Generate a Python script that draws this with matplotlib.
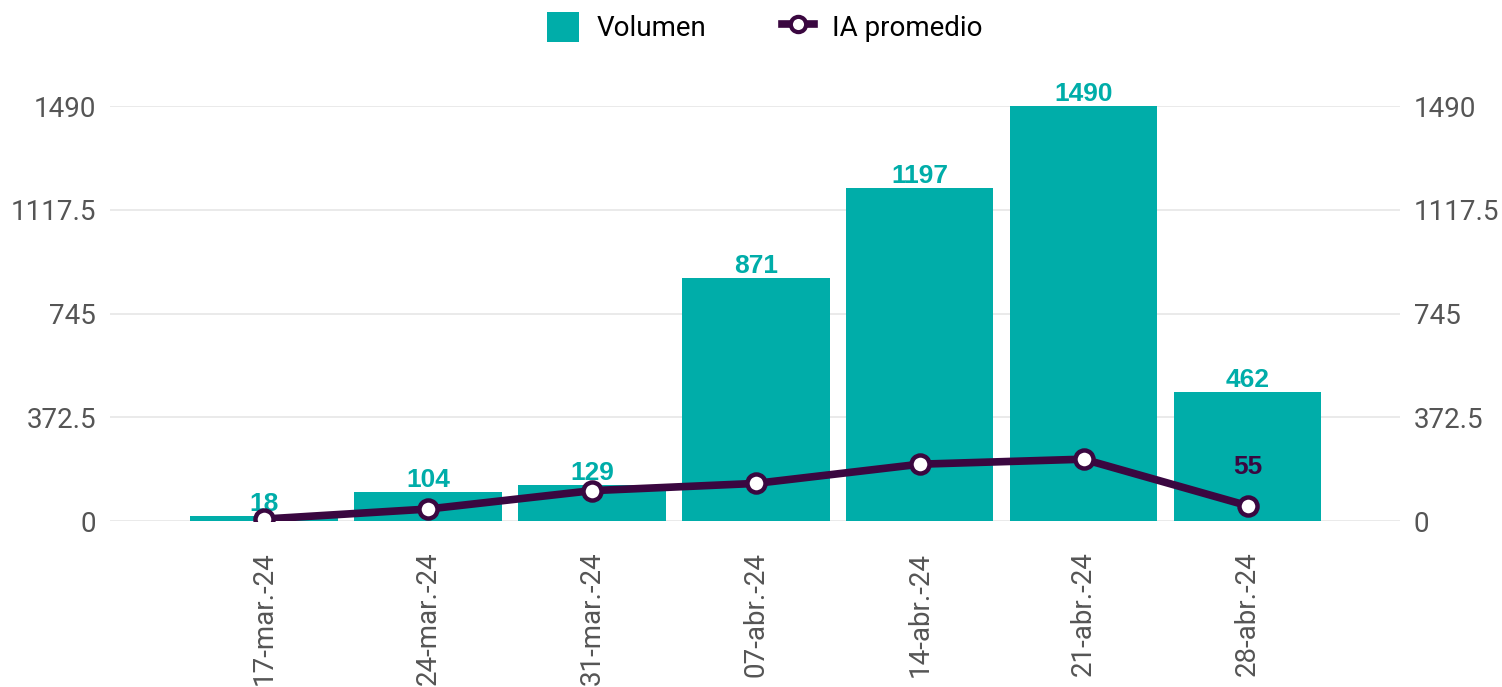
import matplotlib.pyplot as plt
from matplotlib.patches import Patch
from matplotlib.lines import Line2D

# data
semanas = ['17-mar.-24', '24-mar.-24', '31-mar.-24', '07-abr.-24',
           '14-abr.-24', '21-abr.-24', '28-abr.-24']
volumen = [18, 104, 129, 871, 1197, 1490, 462]
ia_promedio = [7, 43, 109, 135, 204, 222, 55]
yticks = [0, 372.5, 745, 1117.5, 1490]

teal = '#00ADA9'
morado = '#3A0740'
gris = '#555555'

plt.rcParams['font.family'] = ['Roboto', 'DejaVu Sans']

fig = plt.figure(figsize=(15.02, 6.87), dpi=100)
ax = fig.add_axes([0.0732, 0.2416, 0.8589, 0.6041])
x = list(range(len(semanas)))

ax.bar(x, volumen, width=0.9, color=teal, zorder=2)
for xi, v in zip(x, volumen):
    ax.text(xi, v, str(v), ha='center', va='bottom', color=teal,
            fontsize=19, fontweight='bold', family=['Liberation Sans'], zorder=3)

ax.plot(x, ia_promedio, color=morado, lw=5.5, marker='o', markersize=13,
        markerfacecolor='white', markeredgecolor=morado, markeredgewidth=3.2, zorder=4)
# only the last point carries a label
ax.text(x[-1], ia_promedio[-1] + 140, str(ia_promedio[-1]), ha='center', va='center',
        color=morado, fontsize=19, fontweight='bold', family=['Liberation Sans'], zorder=5)

ax.set_xlim(-0.94, 6.93)
ax.set_ylim(0, 1490)
ax.set_yticks(yticks)
ax.set_yticklabels(['0', '372.5', '745', '1117.5', '1490'])
ax.grid(axis='y', color='#e6e6e6', lw=1.2, zorder=0)
ax.set_axisbelow(True)
ax.set_xticks(x)
ax.set_xticklabels(semanas, rotation=90)
ax.tick_params(axis='x', length=0, pad=22, labelsize=20, labelcolor=gris)
ax.tick_params(axis='y', length=0, pad=10, labelsize=20, labelcolor=gris)
for s in ax.spines.values():
    s.set_visible(False)

ax2 = ax.twinx()
ax2.set_ylim(0, 1490)
ax2.set_yticks(yticks)
ax2.set_yticklabels(['0', '372.5', '745', '1117.5', '1490'])
ax2.tick_params(axis='y', length=0, pad=10, labelsize=20, labelcolor=gris)
for s in ax2.spines.values():
    s.set_visible(False)

handles = [Patch(facecolor=teal, label='Volumen'),
           Line2D([0], [0], color=morado, lw=5.5, marker='o', markersize=11,
                  markerfacecolor='white', markeredgecolor=morado, markeredgewidth=3,
                  label='IA promedio')]
fig.legend(handles=handles, loc='center', bbox_to_anchor=(0.509, 0.96), ncol=2,
           frameon=False, fontsize=20, handlelength=1.15, handleheight=1.25,
           columnspacing=2.7, handletextpad=0.65)

fig.savefig('out.png', dpi=100)
